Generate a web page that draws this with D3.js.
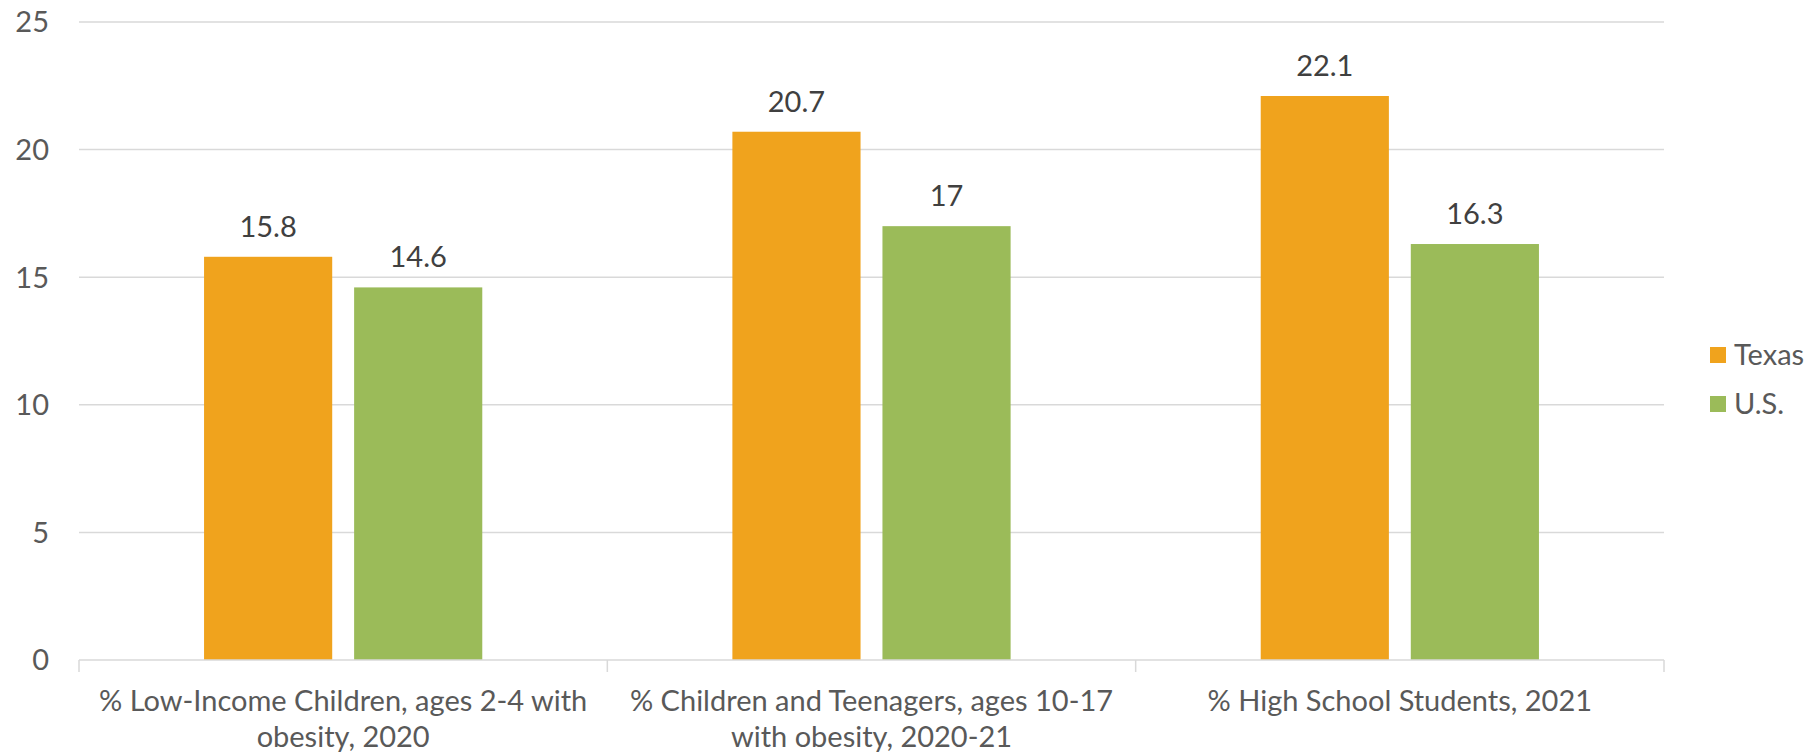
<!DOCTYPE html>
<html><head><meta charset="utf-8">
<script src="https://cdn.jsdelivr.net/npm/d3@7"></script>
<style>body{margin:0;background:#fff}svg{display:block}text{font-family:Lato,"Open Sans",sans-serif}</style>
</head><body>
<svg id="c" width="1816" height="754"></svg>
<script>
const categories = ["% Low-Income Children, ages 2-4 with obesity, 2020", "% Children and Teenagers, ages 10-17 with obesity, 2020-21", "% High School Students, 2021"];
const seriesNames = ["Texas", "U.S."];
const texasValues = [15.8, 20.7, 22.1];
const usValues = [14.6, 17, 16.3];
const yTicks = [0, 5, 10, 15, 20, 25];
const colors = ["#F0A31D", "#9BBB59"];

(function () {
const svg = d3.select("#c");
const pl = 79, pr = 1664, pt = 22, pb = 660;
const y = d3.scaleLinear().domain([0, 25]).range([pb, pt]);
const x0 = d3.scaleBand().domain(categories).range([pl, pr]).padding(0);
const cw = x0.bandwidth();
const x1 = d3.scaleBand().domain(seriesNames).range([cw * 0.2367, cw * (1 - 0.2367)]).paddingInner(0.146).paddingOuter(0);
const series = [texasValues, usValues];
const fs = 29;

svg.append("g").selectAll("line").data(yTicks.filter(d => d > 0)).join("line")
  .attr("x1", pl).attr("x2", pr).attr("y1", d => y(d)).attr("y2", d => y(d))
  .attr("stroke", "#d9d9d9").attr("stroke-width", 1.5);

svg.append("g").selectAll("text").data(yTicks).join("text")
  .attr("x", 49).attr("y", d => y(d)).attr("dy", "0.36em").attr("text-anchor", "end")
  .attr("font-size", fs).attr("fill", "#595959").text(d => d);

const g = svg.append("g").selectAll("g").data(categories).join("g")
  .attr("transform", c => `translate(${x0(c)},0)`);
g.selectAll("rect").data((c, i) => seriesNames.map((s, j) => ({s, j, v: series[j][i]}))).join("rect")
  .attr("x", d => x1(d.s)).attr("width", x1.bandwidth())
  .attr("y", d => y(d.v)).attr("height", d => y(0) - y(d.v))
  .attr("fill", d => colors[d.j]);
g.selectAll("text.v").data((c, i) => seriesNames.map((s, j) => ({s, v: series[j][i]}))).join("text")
  .attr("class", "v")
  .attr("x", d => x1(d.s) + x1.bandwidth() / 2).attr("y", d => y(d.v) - 20)
  .attr("text-anchor", "middle").attr("font-size", fs).attr("fill", "#404040").text(d => d.v);

svg.append("line").attr("x1", pl).attr("x2", pr).attr("y1", pb).attr("y2", pb)
  .attr("stroke", "#d9d9d9").attr("stroke-width", 1.5);
const bounds = categories.map(c => x0(c)).concat([pr]);
svg.append("g").selectAll("line").data(bounds).join("line")
  .attr("x1", d => d).attr("x2", d => d).attr("y1", pb).attr("y2", pb + 12)
  .attr("stroke", "#d9d9d9").attr("stroke-width", 1.5);

const labG = svg.append("g");
categories.forEach(c => {
  const t = labG.append("text").attr("x", x0(c) + cw / 2).attr("y", 711)
    .attr("text-anchor", "middle").attr("font-size", fs).attr("fill", "#595959");
  const words = c.split(" ");
  let lines = [], cur = [];
  const probe = labG.append("text").attr("font-size", fs);
  words.forEach(w => {
    const test = cur.concat([w]).join(" ");
    probe.text(test);
    if (probe.node().getComputedTextLength() > cw - 10 && cur.length) { lines.push(cur.join(" ")); cur = [w]; }
    else cur.push(w);
  });
  lines.push(cur.join(" "));
  probe.remove();
  lines.forEach((l, i) => t.append("tspan").attr("x", x0(c) + cw / 2).attr("dy", i ? 36 : 0).text(l));
});

const lg = svg.append("g").selectAll("g").data(seriesNames).join("g")
  .attr("transform", (d, i) => `translate(1710,${355 + i * 49})`);
lg.append("rect").attr("x", 0).attr("y", -8).attr("width", 16).attr("height", 16).attr("fill", (d, i) => colors[i]);
lg.append("text").attr("x", 24).attr("y", 0).attr("dy", "0.36em").attr("font-size", fs).attr("fill", "#595959").text(d => d);
})();
</script>
</body></html>
